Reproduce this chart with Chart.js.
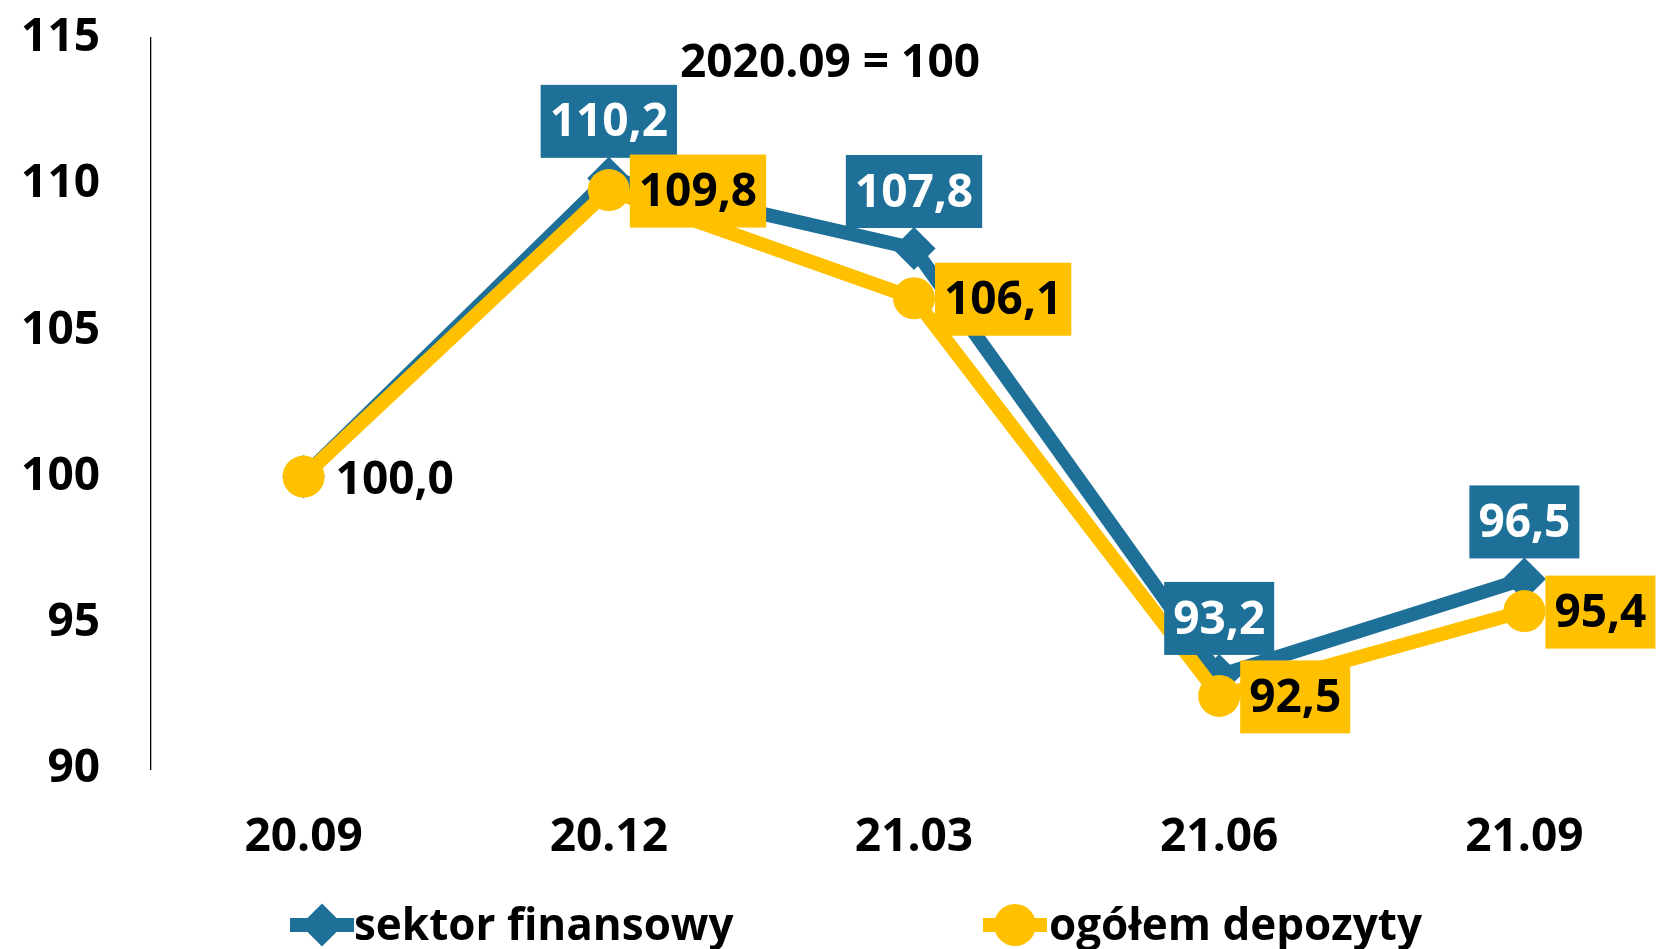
<!DOCTYPE html>
<html><head><meta charset="utf-8">
<script src="https://cdn.jsdelivr.net/npm/chart.js@4"></script>
<style>
html,body{margin:0;padding:0;overflow:hidden;background:#fff;width:1657px;height:949px}
#wrap{position:absolute;left:0;top:0;width:1700px;height:949px}
</style>
</head><body><div id="wrap"><canvas id="c" width="1700" height="949"></canvas></div>
<script>
const categories = ['20.09','20.12','21.03','21.06','21.09'];
const sektorFinansowy = [100.0,110.2,107.8,93.2,96.5];
const ogolemDepozyty = [100.0,109.8,106.1,92.5,95.4];
const seriesNames = ['sektor finansowy','ogółem depozyty'];
const yMin = 90, yMax = 115, yStep = 5;
const baseNote = '2020.09 = 100';

const BLUE = '#1E7098';
const YELLOW = '#FFC000';
const FONT = '"Open Sans", "DejaVu Sans", sans-serif';
const FS = 46;

function fmt(v){ return v.toFixed(1).replace('.', ','); }

const labelPlugin = {
  id: 'labelPlugin',
  afterDatasetsDraw(chart) {
    const ctx = chart.ctx;
    ctx.save();
    ctx.font = 'bold ' + FS + 'px ' + FONT;
    ctx.textBaseline = 'middle';
    const mb = chart.getDatasetMeta(0);
    mb.data.forEach((pt, i) => {
      if (i === 0) return;
      const t = fmt(sektorFinansowy[i]);
      const w = ctx.measureText(t).width + 18;
      const cx = pt.x, cy = pt.y - 57;
      ctx.fillStyle = BLUE;
      ctx.fillRect(cx - w/2, cy - 36.5, w, 73);
      ctx.fillStyle = '#fff';
      ctx.textAlign = 'center';
      ctx.fillText(t, cx, cy + 2);
    });
    const my = chart.getDatasetMeta(1);
    my.data.forEach((pt, i) => {
      const t = fmt(ogolemDepozyty[i]);
      ctx.textAlign = 'left';
      if (i === 0) {
        ctx.fillStyle = '#000';
        ctx.fillText(t, pt.x + 32, pt.y + 4);
        return;
      }
      const w = ctx.measureText(t).width + 18;
      const left = pt.x + 21, cy = pt.y + 1;
      ctx.fillStyle = YELLOW;
      ctx.fillRect(left, cy - 36.5, w, 73);
      ctx.fillStyle = '#000';
      ctx.fillText(t, left + 9, cy + 2);
    });
    ctx.fillStyle = '#000';
    ctx.textAlign = 'center';
    ctx.fillText(baseNote, 830, 64);
    ctx.restore();
  },
  afterDraw(chart) {
    const ctx = chart.ctx;
    ctx.save();
    ctx.font = 'bold 44px ' + FONT;
    ctx.textBaseline = 'middle';
    ctx.textAlign = 'left';
    const items = [
      {ds: chart.data.datasets[0], x0: 290, x1: 354, tx: 354},
      {ds: chart.data.datasets[1], x0: 983, x1: 1047, tx: 1049}
    ];
    const y = 925;
    items.forEach(it => {
      const ds = it.ds;
      ctx.strokeStyle = ds.borderColor;
      ctx.lineWidth = ds.borderWidth;
      ctx.beginPath(); ctx.moveTo(it.x0, y); ctx.lineTo(it.x1, y); ctx.stroke();
      ctx.fillStyle = ds.pointBackgroundColor;
      ctx.strokeStyle = ds.pointBorderColor;
      ctx.lineWidth = ds.pointBorderWidth || 0;
      Chart.helpers.drawPoint(ctx, {pointStyle: ds.pointStyle, radius: ds.pointRadius, rotation: 0, borderWidth: ds.pointBorderWidth}, (it.x0 + it.x1)/2, y);
      ctx.fillStyle = '#000';
      ctx.fillText(ds.label, it.tx, y + 2);
    });
    ctx.restore();
  }
};

new Chart(document.getElementById('c'), {
  type: 'line',
  data: {
    labels: categories,
    datasets: [
      {
        label: seriesNames[0],
        data: sektorFinansowy,
        borderColor: BLUE,
        backgroundColor: BLUE,
        borderWidth: 14,
        pointStyle: 'rectRot',
        pointRadius: 18,
        pointBackgroundColor: BLUE,
        pointBorderColor: BLUE,
        pointBorderWidth: 5,
        tension: 0,
        order: 1
      },
      {
        label: seriesNames[1],
        data: ogolemDepozyty,
        borderColor: YELLOW,
        backgroundColor: YELLOW,
        borderWidth: 14,
        pointStyle: 'circle',
        pointRadius: 21,
        pointBackgroundColor: YELLOW,
        pointBorderColor: YELLOW,
        pointBorderWidth: 0,
        tension: 0,
        order: 0
      }
    ]
  },
  options: {
    responsive: false,
    animation: false,
    events: [],
    layout: { padding: { left: 0, right: 20.5, top: 38, bottom: 83 } },
    plugins: { legend: { display: false }, tooltip: { enabled: false }, title: { display: false } },
    scales: {
      x: {
        offset: true,
        grid: { display: false, drawTicks: false },
        border: { display: false },
        ticks: { color: '#000', font: { family: FONT, size: FS, weight: 'bold' }, padding: 41, maxRotation: 0 },
        afterFit(s) { s.height = 97; s.paddingLeft = 0; s.paddingRight = 0; }
      },
      y: {
        min: yMin, max: yMax,
        grid: { display: false, drawTicks: false },
        border: { display: true, color: '#000', width: 1.3 },
        ticks: { stepSize: yStep, color: '#000', font: { family: FONT, size: FS, weight: 'bold' }, padding: 51 },
        afterFit(s) { s.width = 151; s.paddingTop = 0; s.paddingBottom = 0; }
      }
    }
  },
  plugins: [labelPlugin]
});
</script>
</body></html>
